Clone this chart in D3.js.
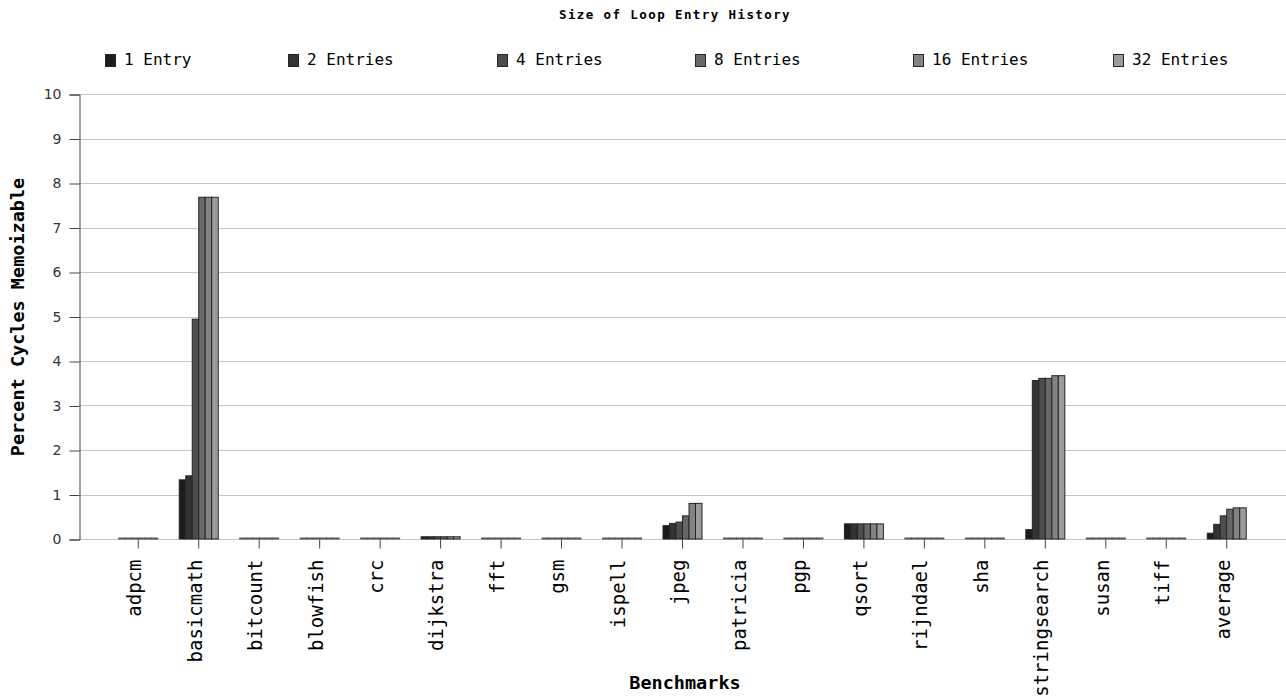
<!DOCTYPE html>
<html>
<head>
<meta charset="utf-8">
<script src="https://cdn.jsdelivr.net/npm/d3@7"></script>
<style>
  body { margin: 0; background: #fff; }
  svg { display: block; }
</style>
</head>
<body>
<div id="chart"></div>
<script>
// benchmarks on the x axis
var benchmarks = ["adpcm", "basicmath", "bitcount", "blowfish", "crc", "dijkstra", "fft", "gsm",
    "ispell", "jpeg", "patricia", "pgp", "qsort", "rijndael", "sha", "stringsearch", "susan", "tiff", "average"];

var seriesNames = ["1 Entry", "2 Entries", "4 Entries", "8 Entries", "16 Entries", "32 Entries"];

// percent cycles memoizable, one array per history size
var entry1  = [0, 1.33, 0, 0, 0, 0.05, 0, 0, 0, 0.30, 0, 0, 0.34, 0, 0, 0.21, 0, 0, 0.13];
var entry2  = [0, 1.42, 0, 0, 0, 0.05, 0, 0, 0, 0.35, 0, 0, 0.34, 0, 0, 3.56, 0, 0, 0.33];
var entry4  = [0, 4.94, 0, 0, 0, 0.05, 0, 0, 0, 0.38, 0, 0, 0.34, 0, 0, 3.61, 0, 0, 0.52];
var entry8  = [0, 7.68, 0, 0, 0, 0.05, 0, 0, 0, 0.52, 0, 0, 0.34, 0, 0, 3.61, 0, 0, 0.67];
var entry16 = [0, 7.68, 0, 0, 0, 0.05, 0, 0, 0, 0.80, 0, 0, 0.34, 0, 0, 3.67, 0, 0, 0.70];
var entry32 = [0, 7.68, 0, 0, 0, 0.05, 0, 0, 0, 0.80, 0, 0, 0.34, 0, 0, 3.67, 0, 0, 0.70];

var yTicks = [0, 1, 2, 3, 4, 5, 6, 7, 8, 9, 10];

var seriesValues = [entry1, entry2, entry4, entry8, entry16, entry32];
var colors = ["#1c1c1c", "#333333", "#4d4d4d", "#686868", "#838383", "#9c9c9c"];
var legendX = [105, 288, 497, 695, 913, 1113];

var width = 1286, height = 698;
var margin = { top: 94, right: 0, bottom: 159, left: 79 };

var svg = d3.select("#chart")
    .append("svg")
    .attr("width", width)
    .attr("height", height);

var x = d3.scaleBand()
    .domain(benchmarks)
    .range([margin.left, width - margin.right])
    .paddingInner(0)
    .paddingOuter(0.48);

var groupW = x.bandwidth() * 0.645;
var xs = d3.scaleBand()
    .domain(seriesNames)
    .range([0, groupW]);

var y = d3.scaleLinear()
    .domain([0, 10])
    .range([height - margin.bottom, margin.top]);

// grid lines
svg.append("g")
    .selectAll("line")
    .data(yTicks)
    .enter()
    .append("line")
    .attr("x1", margin.left)
    .attr("x2", width)
    .attr("y1", function (d) { return Math.round(y(d)) + 0.5; })
    .attr("y2", function (d) { return Math.round(y(d)) + 0.5; })
    .attr("stroke", "#c6c6c6")
    .attr("stroke-width", 1);

// y axis
var yAxis = svg.append("g")
    .attr("transform", "translate(" + (margin.left + 0.5) + ",0.5)")
    .call(d3.axisLeft(y).tickValues(yTicks).tickSize(10).tickPadding(8).tickFormat(d3.format("d")));
yAxis.select(".domain").attr("stroke", "#444");
yAxis.selectAll(".tick line").attr("stroke", "#444");
yAxis.selectAll("text")
    .attr("fill", "#333")
    .style("font-family", "'DejaVu Sans', Verdana, sans-serif")
    .style("font-size", "14px");

// bars
var rows = benchmarks.map(function (b, i) {
    return { name: b, values: seriesValues.map(function (s, j) { return { key: seriesNames[j], v: s[i], c: colors[j] }; }) };
});

var groups = svg.append("g")
    .selectAll("g")
    .data(rows)
    .enter()
    .append("g")
    .attr("transform", function (d) { return "translate(" + (x(d.name) + (x.bandwidth() - groupW) / 2) + ",0)"; });

// zero values still show as a thin dark strip on the baseline
function barH(d) { return Math.max(y(0) - y(d.v), 1); }

groups.selectAll("rect")
    .data(function (d) { return d.values; })
    .enter()
    .append("rect")
    .attr("x", function (d) { return xs(d.key); })
    .attr("width", xs.bandwidth())
    .attr("y", function (d) { return y(0) - barH(d); })
    .attr("height", barH)
    .attr("fill", function (d) { return d.c; })
    .attr("stroke", function (d) { return d.v > 0 ? "#262626" : "#5a5a5a"; })
    .attr("stroke-width", 1);

// x axis ticks and labels
var xAxis = svg.append("g")
    .attr("transform", "translate(0," + (y(0) + 0.5) + ")")
    .call(d3.axisBottom(x).tickSize(9).tickSizeOuter(0));
xAxis.select(".domain").remove();
xAxis.selectAll(".tick line").attr("stroke", "#444");
xAxis.selectAll("text")
    .attr("transform", "rotate(-90)")
    .attr("x", -20)
    .attr("y", 0)
    .attr("dy", "0.15em")
    .attr("fill", "#000")
    .style("text-anchor", "end")
    .style("font-family", "'DejaVu Sans Mono', monospace")
    .style("font-size", "19px");

// title
svg.append("text")
    .attr("x", 675)
    .attr("y", 19)
    .attr("text-anchor", "middle")
    .style("font-family", "'DejaVu Sans Mono', monospace")
    .style("font-weight", "bold")
    .style("font-size", "12.5px")
    .style("letter-spacing", "1.4px")
    .text("Size of Loop Entry History");

// legend
var legend = svg.append("g")
    .selectAll("g")
    .data(seriesNames)
    .enter()
    .append("g")
    .attr("transform", function (d, i) { return "translate(" + legendX[i] + ",54)"; });
legend.append("rect")
    .attr("x", 0.5).attr("y", 0.5)
    .attr("width", 10).attr("height", 12)
    .attr("fill", function (d, i) { return colors[i]; })
    .attr("stroke", "#262626");
legend.append("text")
    .attr("x", 19)
    .attr("y", 11)
    .style("font-family", "'DejaVu Sans Mono', monospace")
    .style("font-size", "16px")
    .text(function (d) { return d; });

// axis titles
svg.append("text")
    .attr("transform", "translate(24," + 317 + ") rotate(-90)")
    .attr("text-anchor", "middle")
    .style("font-family", "'DejaVu Sans Mono', monospace")
    .style("font-weight", "bold")
    .style("font-size", "18.5px")
    .text("Percent Cycles Memoizable");

svg.append("text")
    .attr("x", 685)
    .attr("y", 689)
    .attr("text-anchor", "middle")
    .style("font-family", "'DejaVu Sans Mono', monospace")
    .style("font-weight", "bold")
    .style("font-size", "18.5px")
    .text("Benchmarks");
</script>
</body>
</html>
